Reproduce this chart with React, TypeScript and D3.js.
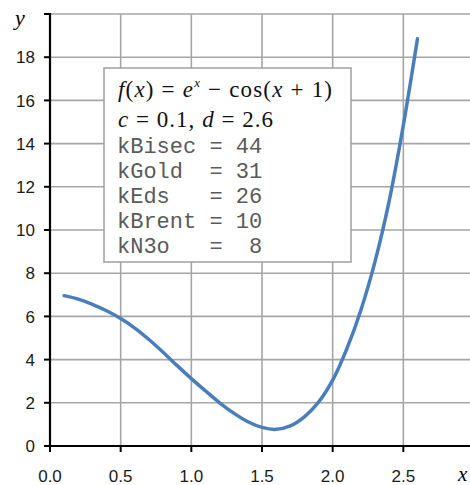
import * as d3 from "d3";

// curve
const xVals = [0.1, 0.2, 0.3, 0.4, 0.5, 0.6, 0.7, 0.8, 0.9, 1.0, 1.1, 1.2, 1.3,
  1.4, 1.5, 1.6, 1.7, 1.8, 1.9, 2.0, 2.1, 2.2, 2.3, 2.4, 2.5, 2.6];
const yVals = [6.96, 6.8, 6.56, 6.26, 5.9, 5.46, 4.93, 4.34, 3.72, 3.12, 2.55, 2.0, 1.52,
  1.12, 0.86, 0.77, 0.93, 1.35, 2.03, 3.05, 4.5, 6.3, 8.55, 11.35, 14.85, 18.85];

const xTicks = [0, 0.5, 1.0, 1.5, 2.0, 2.5];
const xTickLabels = ["0.0", "0.5", "1.0", "1.5", "2.0", "2.5"];
const yTicks = [0, 2, 4, 6, 8, 10, 12, 14, 16, 18, 20];
const yTickLabels = ["0", "2", "4", "6", "8", "10", "12", "14", "16", "18", ""];

const counterLines = [
  "kBisec = 44",
  "kGold  = 31",
  "kEds   = 26",
  "kBrent = 10",
  "kN3o   =  8",
];

const W = 470, H = 485;

export default function App() {
  const x = d3.scaleLinear().domain([0, 3]).range([50, 474]);
  const y = d3.scaleLinear().domain([0, 20]).range([446, 14]);

  const pts = xVals.map((v, i) => [v, yVals[i]] as [number, number]);
  const line = d3.line<[number, number]>()
    .x(d => x(d[0]))
    .y(d => y(d[1]))
    .curve(d3.curveCatmullRom.alpha(0.5));

  const grid = "#a6a6a6";
  const serif = "'Liberation Serif', 'DejaVu Serif', serif";

  return (
    <svg width={W} height={H} style={{ position: "absolute", left: 0, top: 0, background: "#fff" }}>
      {/* grid */}
      {yTicks.map(t => (
        <line key={"gy" + t} x1={50} x2={W} y1={y(t)} y2={y(t)} stroke={grid} strokeWidth={1.6} />
      ))}
      {[...xTicks, 3].map(t => (
        <line key={"gx" + t} x1={x(t)} x2={x(t)} y1={14} y2={446} stroke={grid} strokeWidth={1.6} />
      ))}

      {/* axes */}
      <line x1={50} x2={W} y1={446} y2={446} stroke="#000" strokeWidth={2.2} />
      <line x1={50} x2={50} y1={13} y2={447} stroke="#000" strokeWidth={2.2} />
      {yTicks.map(t => (
        <line key={"ty" + t} x1={44} x2={50} y1={y(t)} y2={y(t)} stroke="#000" strokeWidth={2} />
      ))}
      {xTicks.map(t => (
        <line key={"tx" + t} x1={x(t)} x2={x(t)} y1={446} y2={452} stroke="#000" strokeWidth={2} />
      ))}

      {/* tick labels */}
      <g fontFamily="'Liberation Sans', Arial, sans-serif" fontSize={17} fill="#1a1a1a">
        {yTicks.map((t, i) => (
          <text key={"ly" + t} x={35} y={y(t)} dy="0.36em" textAnchor="end">{yTickLabels[i]}</text>
        ))}
        {xTicks.map((t, i) => (
          <text key={"lx" + t} x={x(t)} y={482} textAnchor="middle">{xTickLabels[i]}</text>
        ))}
      </g>
      <text x={15} y={25} fontFamily={serif} fontStyle="italic" fontSize={22}>y</text>
      <text x={458} y={481} fontFamily={serif} fontStyle="italic" fontSize={21}>x</text>

      {/* curve */}
      <path d={line(pts) ?? ""} fill="none" stroke="#4a7ebb" strokeWidth={3.5} strokeLinecap="round" />

      {/* info box */}
      <rect x={104} y={68} width={247} height={194} fill="#fff" stroke="#a0a0a0" strokeWidth={1.5} />
      <text x={118} y={97} fontFamily={serif} fontSize={23} fill="#111" textLength={214} lengthAdjust="spacing">
        <tspan fontStyle="italic">f</tspan>
        <tspan>(</tspan>
        <tspan fontStyle="italic">x</tspan>
        <tspan>) = </tspan>
        <tspan fontStyle="italic">e</tspan>
        <tspan fontStyle="italic" fontSize={13} dy={-10}>x</tspan>
        <tspan dy={10}> − cos(</tspan>
        <tspan fontStyle="italic">x</tspan>
        <tspan> + 1)</tspan>
      </text>
      <text x={118} y={127} fontFamily={serif} fontSize={23} fill="#111" textLength={155} lengthAdjust="spacing">
        <tspan fontStyle="italic">c</tspan>
        <tspan> = 0.1, </tspan>
        <tspan fontStyle="italic">d</tspan>
        <tspan> = 2.6</tspan>
      </text>
      <g fontFamily="'Liberation Mono', 'Courier New', monospace" fontSize={22} fill="#5a5a5a" style={{ whiteSpace: "pre" }}>
        {counterLines.map((s, i) => (
          <text key={s} x={117} y={153 + i * 25} xmlSpace="preserve">{s}</text>
        ))}
      </g>
    </svg>
  );
}
